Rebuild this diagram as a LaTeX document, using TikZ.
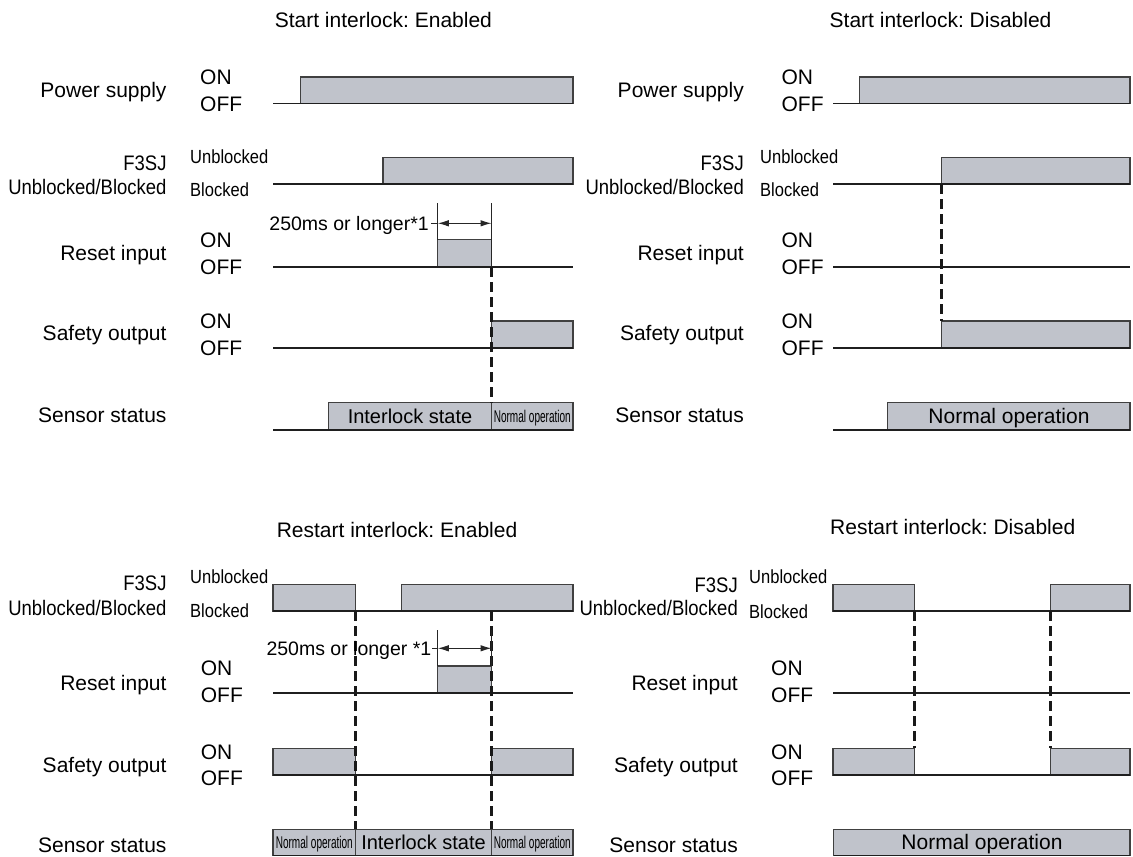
\documentclass[tikz,border=0pt]{standalone}
\usepackage{graphicx}
\usepackage{fontspec}
\setmainfont{Liberation Sans}
\usetikzlibrary{arrows.meta}

\definecolor{boxgray}{RGB}{192,195,203}
\newcommand{\cond}[2][0.88]{\scalebox{#1}[1]{#2}}
\frenchspacing

\tikzset{
  sig/.style={line width=1.8pt, draw=black!88},
  pulse/.style={draw=black!75, line width=1.1pt, fill=boxgray},
  dashline/.style={line width=2.4pt, draw=black!90, dash pattern=on 10pt off 5pt},
  tick/.style={line width=1pt, draw=black!85},
  txt/.style={inner sep=0pt, text height=15pt, text depth=0pt, font=\fontsize{21}{24}\selectfont},
  lbl/.style={txt, anchor=east},
  lvl/.style={txt, anchor=west},
  ttl/.style={txt, anchor=west},
  sublvl/.style={inner sep=0pt, anchor=west, text height=13.6pt, text depth=0pt, font=\fontsize{19}{22}\selectfont},
  note/.style={inner sep=0pt, anchor=east, text height=14pt, text depth=0pt, font=\fontsize{19.5}{22}\selectfont},
  stat/.style={inner sep=0pt, text height=14.3pt, text depth=0pt, font=\fontsize{20}{24}\selectfont},
  small/.style={inner sep=0pt, text height=12.2pt, text depth=0pt, font=\fontsize{17}{19}\selectfont}
}

\begin{document}
\begin{tikzpicture}[x=1pt,y=-1pt]
  \useasboundingbox (0,0) rectangle (1133,857);

  % ---- Start interlock: Enabled ----
  \node[ttl] (tA) at (274.6,20) {Start interlock: Enabled};

  \filldraw[pulse] (300.7,77) rectangle (573,103.5);
  \draw[sig] (273,103.5) -- (573,103.5);
  \node[lbl] (psA) at (166.7,90) {Power supply};
  \node[lvl] (psAon) at (200,77) {ON};
  \node[lvl] (psAoff) at (200,103.5) {OFF};

  \filldraw[pulse] (383,157.5) rectangle (573,184.3);
  \draw[sig] (273,184.3) -- (573,184.3);
  \node[lbl] (fjA) at (166.7,163) {\cond{F3SJ}};
  \node[lbl] (fjAub) at (166.7,187) {\cond{Unblocked/Blocked}};
  \node[sublvl] (fjAhi) at (190,157) {\cond[0.87]{Unblocked}};
  \node[sublvl] (fjAlo) at (190,190) {\cond[0.87]{Blocked}};

  \filldraw[pulse] (437.8,239.5) rectangle (491.5,267);
  \draw[sig] (273,267) -- (573,267);
  \node[lbl] (riA) at (166.7,253) {Reset input};
  \node[lvl] (riAon) at (200,239.5) {ON};
  \node[lvl] (riAoff) at (200,267) {OFF};
  \draw[tick] (437.8,203) -- (437.8,239.5);
  \draw[tick] (491.5,203) -- (491.5,267);
  \draw[tick] (431,223.3) -- (437.8,223.3);
  \draw[tick, {Latex[length=11pt,width=6.5pt]}-{Latex[length=11pt,width=6.5pt]}] (437.8,223.3) -- (491.5,223.3);
  \node[note] (nA) at (429,223.3) {250ms or longer*1};

  \filldraw[pulse] (491.5,321) rectangle (573,348);
  \draw[sig] (273,348) -- (573,348);
  \node[lbl] (soA) at (166.7,333) {Safety output};
  \node[lvl] (soAon) at (200,321) {ON};
  \node[lvl] (soAoff) at (200,348) {OFF};

  \filldraw[pulse] (328.6,402.7) rectangle (491.5,430);
  \filldraw[pulse] (491.5,402.7) rectangle (573,430);
  \draw[sig] (273,430) -- (573,430);
  \node[lbl] (ssA) at (166.7,415) {Sensor status};
  \node[stat] (ssA1) at (410,416.4) {Interlock state};
  \node[small] (ssA2) at (532.3,416.4) {\cond[0.59]{Normal operation}};

  \draw[dashline] (491.5,267) -- (491.5,402.7);

  % ---- Start interlock: Disabled ----
  \node[ttl] (tB) at (829.5,20) {Start interlock: Disabled};

  \filldraw[pulse] (859.7,77) rectangle (1130,103.5);
  \draw[sig] (833,103.5) -- (1130,103.5);
  \node[lbl] (psB) at (744,90) {Power supply};
  \node[lvl] (psBon) at (781.4,77) {ON};
  \node[lvl] (psBoff) at (781.4,103.5) {OFF};

  \filldraw[pulse] (941.5,157.5) rectangle (1130,184.3);
  \draw[sig] (833,184.3) -- (1130,184.3);
  \node[lbl] (fjB) at (744,163) {\cond{F3SJ}};
  \node[lbl] (fjBub) at (744,187) {\cond{Unblocked/Blocked}};
  \node[sublvl] (fjBhi) at (760,157) {\cond[0.87]{Unblocked}};
  \node[sublvl] (fjBlo) at (760,190) {\cond[0.87]{Blocked}};

  \draw[sig] (833,267) -- (1130,267);
  \node[lbl] (riB) at (744,253) {Reset input};
  \node[lvl] (riBon) at (781.4,239.5) {ON};
  \node[lvl] (riBoff) at (781.4,267) {OFF};

  \filldraw[pulse] (941.5,321) rectangle (1130,348);
  \draw[sig] (833,348) -- (1130,348);
  \node[lbl] (soB) at (744,333) {Safety output};
  \node[lvl] (soBon) at (781.4,321) {ON};
  \node[lvl] (soBoff) at (781.4,348) {OFF};

  \filldraw[pulse] (887.7,402.7) rectangle (1130,430);
  \draw[sig] (833,430) -- (1130,430);
  \node[lbl] (ssB) at (744,415) {Sensor status};
  \node[txt] (ssB1) at (1009,416.4) {Normal operation};

  \draw[dashline] (941.5,184.3) -- (941.5,321);

  % ---- Restart interlock: Enabled ----
  \node[ttl] (tC) at (276.6,530) {Restart interlock: Enabled};

  \filldraw[pulse] (273,584.3) rectangle (355.5,611.3);
  \filldraw[pulse] (401.9,584.3) rectangle (573,611.3);
  \draw[sig] (273,611.3) -- (573,611.3);
  \node[lbl] (fjC) at (166.7,583) {\cond{F3SJ}};
  \node[lbl] (fjCub) at (166.7,608) {\cond{Unblocked/Blocked}};
  \node[sublvl] (fjChi) at (190,576.7) {\cond[0.87]{Unblocked}};
  \node[sublvl] (fjClo) at (190,610.7) {\cond[0.87]{Blocked}};

  \filldraw[pulse] (437.8,666) rectangle (491.5,693.3);
  \draw[sig] (273,693.3) -- (573,693.3);
  \node[lbl] (riC) at (166.7,683) {Reset input};
  \node[lvl] (riCon) at (200.7,668) {ON};
  \node[lvl] (riCoff) at (200.7,695) {OFF};

  \filldraw[pulse] (273,748.3) rectangle (355.5,775.3);
  \filldraw[pulse] (491.5,748.3) rectangle (573,775.3);
  \draw[sig] (273,775.3) -- (573,775.3);
  \node[lbl] (soC) at (166.7,765) {Safety output};
  \node[lvl] (soCon) at (200.7,751.7) {ON};
  \node[lvl] (soCoff) at (200.7,778) {OFF};

  \filldraw[pulse] (273,829.3) rectangle (355.5,855.5);
  \filldraw[pulse] (355.5,829.3) rectangle (491.5,855.5);
  \filldraw[pulse] (491.5,829.3) rectangle (573,855.5);
  \draw[sig] (273,855.5) -- (573,855.5);
  \node[lbl] (ssC) at (166.7,845) {Sensor status};
  \node[small] (ssC1) at (314.3,842.4) {\cond[0.59]{Normal operation}};
  \node[stat] (ssC2) at (423.5,842.4) {Interlock state};
  \node[small] (ssC3) at (532.3,842.4) {\cond[0.59]{Normal operation}};

  \draw[dashline] (355.5,611.3) -- (355.5,829.3);
  \draw[dashline] (491.5,611.3) -- (491.5,829.3);
  \draw[tick] (437.8,630) -- (437.8,666);
  \draw[tick] (491.5,630) -- (491.5,666);
  \draw[tick] (432,648.3) -- (437.8,648.3);
  \draw[tick, {Latex[length=11pt,width=6.5pt]}-{Latex[length=11pt,width=6.5pt]}] (437.8,648.3) -- (491.5,648.3);
  \node[note] (nC) at (431.5,648.3) {250ms or longer *1};

  % ---- Restart interlock: Disabled ----
  \node[ttl] (tD) at (830,526.7) {Restart interlock: Disabled};

  \filldraw[pulse] (833,584.3) rectangle (914.5,611.3);
  \filldraw[pulse] (1050.5,584.3) rectangle (1130,611.3);
  \draw[sig] (833,611.3) -- (1130,611.3);
  \node[lbl] (fjD) at (738,585) {\cond{F3SJ}};
  \node[lbl] (fjDub) at (738,608) {\cond{Unblocked/Blocked}};
  \node[sublvl] (fjDhi) at (749,576.7) {\cond[0.87]{Unblocked}};
  \node[sublvl] (fjDlo) at (749,611.7) {\cond[0.87]{Blocked}};

  \draw[sig] (833,693.3) -- (1130,693.3);
  \node[lbl] (riD) at (738,683) {Reset input};
  \node[lvl] (riDon) at (771,668) {ON};
  \node[lvl] (riDoff) at (771,695) {OFF};

  \filldraw[pulse] (833,748.3) rectangle (914.5,775.3);
  \filldraw[pulse] (1050.5,748.3) rectangle (1130,775.3);
  \draw[sig] (833,775.3) -- (1130,775.3);
  \node[lbl] (soD) at (738,765) {Safety output};
  \node[lvl] (soDon) at (771,751.7) {ON};
  \node[lvl] (soDoff) at (771,778) {OFF};

  \filldraw[pulse] (833.7,829.3) rectangle (1130,855.5);
  \draw[sig] (833.7,855.5) -- (1130,855.5);
  \node[lbl] (ssD) at (738,845) {Sensor status};
  \node[txt] (ssD1) at (982,842.4) {Normal operation};

  \draw[dashline] (914.5,611.3) -- (914.5,748.3);
  \draw[dashline] (1050.5,611.3) -- (1050.5,748.3);
\end{tikzpicture}
\end{document}
